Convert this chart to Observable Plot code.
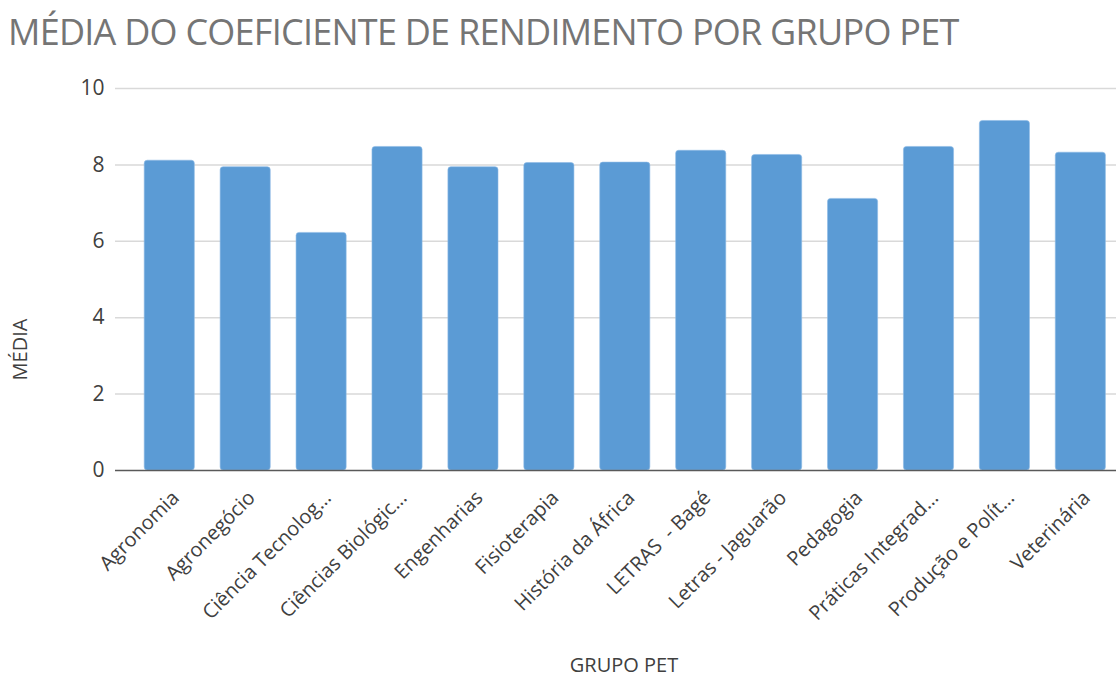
<!DOCTYPE html>
<html>
<head>
<meta charset="utf-8">
<script src="https://cdn.jsdelivr.net/npm/d3@7"></script>
<script src="https://cdn.jsdelivr.net/npm/@observablehq/plot@0.6"></script>
<style>
  html, body { margin: 0; padding: 0; background: #fff; }
  #title { height: 60px; position: relative; }
  #title span { position: absolute; left: 8px; top: 7px; font-family: "Open Sans", "Noto Sans", sans-serif; font-size: 36px; color: #757575; white-space: nowrap; letter-spacing: -0.75px; }
  #chart svg { display: block; }
</style>
</head>
<body>
<div id="title"><span>MÉDIA DO COEFICIENTE DE RENDIMENTO POR GRUPO PET</span></div>
<div id="chart"></div>
<script>
const grupos = [
  "Agronomia", "Agronegócio", "Ciência Tecnolog…", "Ciências Biológic…",
  "Engenharias", "Fisioterapia", "História da África", "LETRAS  - Bagé",
  "Letras - Jaguarão", "Pedagogia", "Práticas Integrad…", "Produção e Polít…",
  "Veterinária"
];
const medias = [8.11, 7.94, 6.22, 8.47, 7.94, 8.05, 8.06, 8.37, 8.26, 7.11, 8.47, 9.15, 8.32];
const yTicks = [0, 2, 4, 6, 8, 10];

const data = grupos.map((g, i) => ({grupo: g, media: medias[i]}));

const chart = Plot.plot({
  width: 1116,
  height: 617,
  marginLeft: 115,
  marginRight: 0,
  marginTop: 28,
  marginBottom: 207,
  style: {fontFamily: "'Open Sans', 'Noto Sans', sans-serif", color: "#404040", background: "#fff"},
  x: {domain: grupos, range: [131.3, 1118.3], paddingInner: 0.34, paddingOuter: 0.17, round: false, label: null},
  y: {domain: [0, 10], label: null},
  marks: [
    Plot.ruleY(yTicks.filter(d => d > 0), {stroke: "#d9d9d9", strokeWidth: 1.5}),
    Plot.barY(data, {x: "grupo", y: "media", fill: "#5b9bd5", stroke: "#8dbbe6", strokeWidth: 0.6, rx: 3}),
    Plot.ruleY([0], {stroke: "#595959", strokeWidth: 1.5}),
    Plot.axisY(yTicks, {tickSize: 0, tickPadding: 11, fontSize: 21, fill: "#404040", label: null}),
    Plot.axisX(grupos, {tickSize: 0, tickRotate: -45, tickPadding: 24, dx: 6, fontSize: 20, fill: "#404040", label: null}),
    Plot.text(["GRUPO PET"], {frameAnchor: "bottom", dx: 8, dy: 195, lineAnchor: "middle", fontSize: 20, fill: "#404040"}),
    Plot.text(["MÉDIA"], {frameAnchor: "top-left", dx: -95, dy: 261, rotate: -90, textAnchor: "middle", lineAnchor: "middle", fontSize: 20, fill: "#404040"})
  ]
});
document.getElementById("chart").appendChild(chart);
</script>
</body>
</html>
